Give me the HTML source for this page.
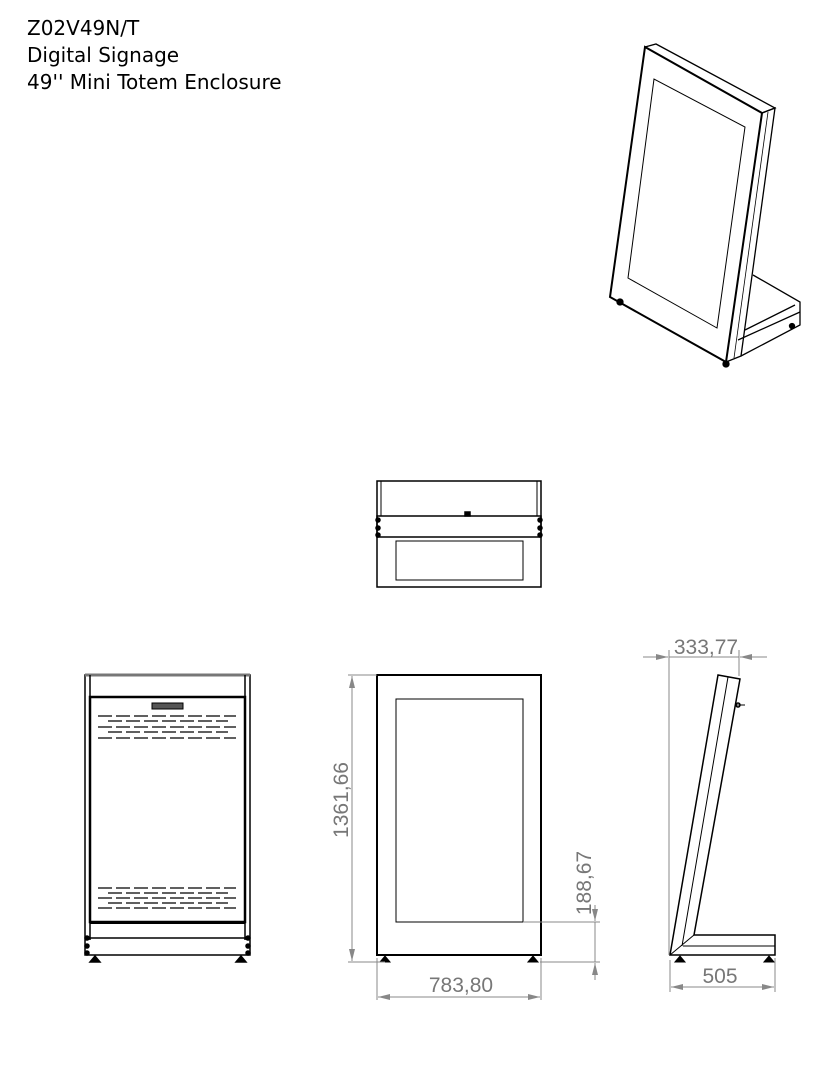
<!DOCTYPE html>
<html><head><style>
body{margin:0;background:#fff;width:837px;height:1076px;overflow:hidden;position:relative}
.t{position:absolute;left:27px;font-family:"DejaVu Sans",sans-serif;font-size:20px;color:#000;line-height:27px}
</style></head><body>
<div class="t" style="top:15px">Z02V49N/T<br>Digital Signage<br>49'' Mini Totem Enclosure</div>
<svg width="837" height="1076" style="position:absolute;left:0;top:0" fill="none" stroke="#000" font-family="Liberation Sans, sans-serif">
<defs><marker id="a" markerWidth="12" markerHeight="6" refX="12" refY="3" orient="auto-start-reverse"><path d="M0,0 L12,3 L0,6z" fill="#888" stroke="none"/></marker></defs>
<g stroke-width="1.3">
<path d="M645,47 L610,297 L726,362 L762,113 Z" stroke-width="2"/>
<path d="M654,79 L628,278 L717,328 L745,127 Z" stroke-width="1"/>
<path d="M645,47 L656,44 L775,108 L762,113"/>
<path d="M762,113 L775,108 L741,356 L726,362"/>
<path d="M768,112 L734,358" stroke-width="0.8"/>
<path d="M753,275 L800,302 L800,325 L741,356"/>
<path d="M745,330 L795,305 M738,340 L800,312"/>
<circle cx="620" cy="302" r="3" fill="#000"/><circle cx="726" cy="364" r="3" fill="#000"/><circle cx="792" cy="326" r="2.5" fill="#000"/>
</g>
<g stroke-width="1.5">
<rect x="377" y="481" width="164" height="106"/>
<path d="M381,481 V516 M537,481 V516" stroke-width="1"/>
<rect x="377" y="516" width="164" height="21"/>
<rect x="396" y="541" width="127" height="39" stroke-width="1"/>
<circle cx="378" cy="520" r="2" fill="#000"/><circle cx="378" cy="528" r="2" fill="#000"/><circle cx="378" cy="535" r="2" fill="#000"/>
<circle cx="540" cy="520" r="2" fill="#000"/><circle cx="540" cy="528" r="2" fill="#000"/><circle cx="540" cy="535" r="2" fill="#000"/>
<rect x="465" y="512" width="5" height="4" fill="#000"/>
</g>
<g stroke-width="1.5">
<rect x="85" y="675" width="165" height="280"/>
<path d="M85,675 H250" stroke="#777" stroke-width="3"/>
<path d="M90,675 V940 M245,675 V940"/>
<rect x="90" y="697" width="155" height="225" stroke-width="2.5"/>
<rect x="152" y="703" width="31" height="6" fill="#555" stroke-width="1"/>
<g stroke-width="1.2" stroke-dasharray="14,4">
<path d="M98,716 H236 M108,721 H228 M98,727 H236 M108,732 H228 M98,738 H236"/>
<path d="M98,888 H236 M108,893 H228 M98,898 H236 M108,903 H228 M98,908 H236"/>
</g>
<path d="M90,923 H245" stroke-width="2"/>
<path d="M85,938 H250"/>
<circle cx="87" cy="938" r="2" fill="#000"/><circle cx="87" cy="946" r="2" fill="#000"/><circle cx="87" cy="953" r="2" fill="#000"/>
<circle cx="248" cy="938" r="2" fill="#000"/><circle cx="248" cy="946" r="2" fill="#000"/><circle cx="248" cy="953" r="2" fill="#000"/>
<path d="M90,962 L95,956 L100,962Z M236,962 L241,956 L246,962Z" fill="#000"/>
</g>
<g stroke-width="2">
<rect x="377" y="675" width="164" height="280"/>
<rect x="396" y="699" width="127" height="223" stroke-width="1"/>
<path d="M380,962 L385,956 L390,962Z M528,962 L533,956 L538,962Z" fill="#000" stroke-width="1"/>
</g>
<g stroke-width="1.5">
<path d="M718,675 L740,679 L694,935 H775 V955 H670 Z"/>
<path d="M728,677 L682,946 M670,955 L694,935 M683,946 H775" stroke-width="1"/>
<path d="M736,705 H745" stroke-width="1"/><circle cx="738" cy="705" r="2"/>
<path d="M675,962 L680,956 L685,962Z M764,962 L769,956 L774,962Z" fill="#000" stroke-width="1"/>
</g>
<g stroke="#888" stroke-width="1">
<path d="M377,675 H348 M385,962 H348"/>
<path d="M352,676 V961" marker-start="url(#a)" marker-end="url(#a)"/>
<path d="M523,922 H600 M540,962 H600"/>
<path d="M595,922 V962"/>
<path d="M595,905 V921" marker-end="url(#a)"/><path d="M595,980 V963" marker-end="url(#a)"/>
<path d="M377,958 V1000 M541,958 V1000"/>
<path d="M378,997 H540" marker-start="url(#a)" marker-end="url(#a)"/>
<path d="M669,650 V955 M739,650 V676"/>
<path d="M643,657 H668" marker-end="url(#a)"/><path d="M767,657 H740" marker-end="url(#a)"/>
<path d="M669,657 H739"/>
<path d="M670,960 V992 M775,958 V992"/>
<path d="M671,987 H774" marker-start="url(#a)" marker-end="url(#a)"/>
</g>
<g fill="#777" stroke="none" font-size="21">
<text x="348" y="800" text-anchor="middle" transform="rotate(-90 348 800)">1361,66</text>
<text x="591" y="883" text-anchor="middle" transform="rotate(-90 591 883)">188,67</text>
<text x="461" y="992" text-anchor="middle">783,80</text>
<text x="706" y="654" text-anchor="middle">333,77</text>
<text x="720" y="983" text-anchor="middle">505</text>
</g>
</svg>
</body></html>
